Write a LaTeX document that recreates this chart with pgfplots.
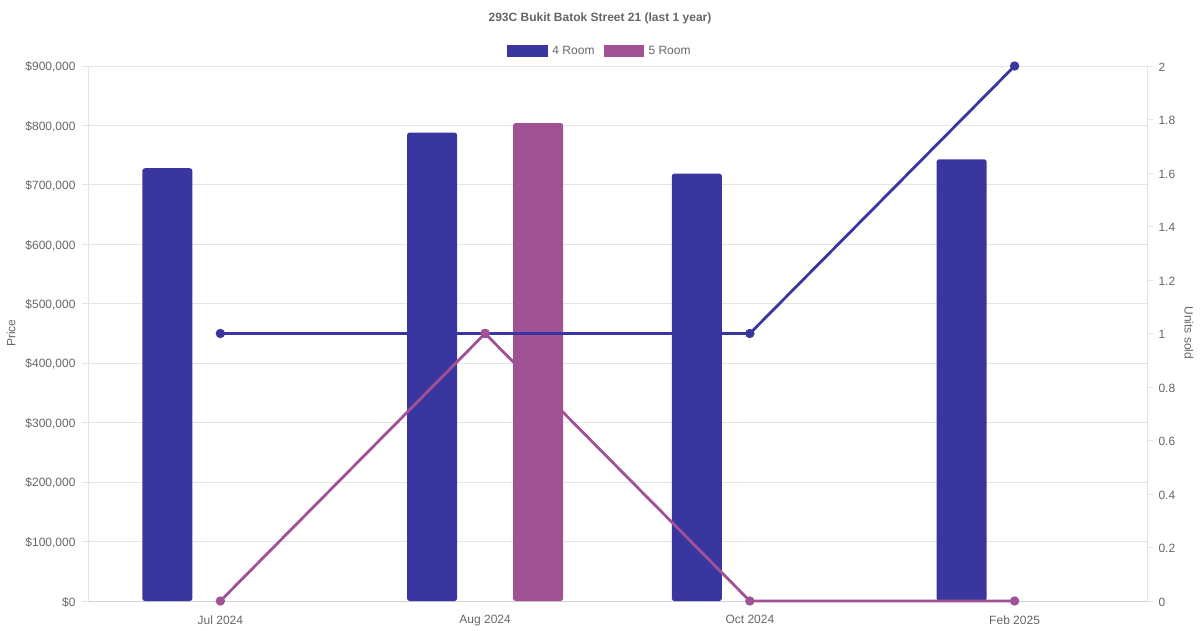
\documentclass[border=0pt]{standalone}
\usepackage{pgfplots}
\pgfplotsset{compat=1.18}
\usepackage{fontspec}
\setmainfont{Liberation Sans}
\definecolor{cA}{RGB}{58,54,160}
\definecolor{cB}{RGB}{160,82,148}
\definecolor{txt}{RGB}{102,102,102}
\definecolor{grd}{RGB}{228,228,228}
\definecolor{axl}{RGB}{210,210,210}
\begin{document}
\begin{tikzpicture}[font=\fontsize{12}{14}\selectfont]
\useasboundingbox (0,0) rectangle (1200pt,630pt);
\begin{axis}[
  at={(88pt,29pt)}, anchor=south west,
  scale only axis, width=1059pt, height=535pt,
  xmin=-0.5, xmax=3.5, ymin=0, ymax=900000,
  xtick={0,1,2,3},
  xticklabels={Jul 2024,Aug 2024,Oct 2024,Feb 2025},
  xtick style={draw=none},
  ytick={0,100000,...,900000},
  yticklabels={\$0,{\$100,000},{\$200,000},{\$300,000},{\$400,000},{\$500,000},{\$600,000},{\$700,000},{\$800,000},{\$900,000}},
  axis y line*=left, axis x line*=bottom,
  y axis line style={draw=grd},
  x axis line style={draw=axl},
  ymajorgrids, grid style={draw=grd, line width=0.8pt},
  tick align=outside, major tick length=6pt,
  ytick style={draw=grd, line width=0.8pt},
  ticklabel style={text=txt},
  yticklabel style={xshift=-3pt, yshift=-1pt},
  xticklabel style={yshift=-5pt},
  scaled y ticks=false,
  legend style={at={(0.4835,1.028)}, anchor=center, draw=none, fill=none,
    legend columns=2, text=txt,
    /tikz/every even column/.append style={column sep=7pt}},
  legend cell align=left,
  clip=false,
]
\addplot[ybar, bar width=50pt, bar shift=-53pt, fill=cA, draw=none, rounded corners=2.5pt,
  legend image code/.code={\fill[cA, sharp corners] (0pt,-6pt) rectangle (40pt,6pt); \path (43pt,0pt);}]
  coordinates {(0,728000) (1,788000) (2,719000) (3,743000)};
\addlegendentry{4 Room}
\addplot[ybar, bar width=50pt, bar shift=53pt, fill=cB, draw=none, rounded corners=2.5pt,
  legend image code/.code={\fill[cB, sharp corners] (0pt,-6pt) rectangle (40pt,6pt); \path (43pt,0pt);}]
  coordinates {(1,804000)};
\addlegendentry{5 Room}
\end{axis}
\begin{axis}[
  at={(88pt,29pt)}, anchor=south west,
  scale only axis, width=1059pt, height=535pt,
  xmin=-0.5, xmax=3.5, ymin=0, ymax=2,
  axis x line=none,
  axis y line*=right,
  y axis line style={draw=grd},
  ytick={0,0.2,...,2.01},
  tick align=outside, major tick length=6pt,
  ytick style={draw=grd, line width=0.8pt},
  yticklabel style={text=txt, xshift=2pt, yshift=-1pt, /pgf/number format/assume math mode=true},
  clip=false,
]
\addplot[cA, line width=2.8pt, mark=*, mark size=3.2pt, mark options={solid, fill=cA, draw=none}]
  coordinates {(0,1) (1,1) (2,1) (3,2)};
\addplot[cB, line width=2.8pt, mark=*, mark size=3.2pt, mark options={solid, fill=cB, draw=none}]
  coordinates {(0,0) (1,1) (2,0) (3,0)};
\end{axis}
\node[text=txt, font=\fontsize{12}{14}\selectfont\bfseries] at (600pt,612pt) {293C Bukit Batok Street 21 (last 1 year)};
\node[text=txt, rotate=90] at (11pt,297pt) {Price};
\node[text=txt, rotate=-90] at (1189pt,297pt) {Units sold};
\end{tikzpicture}
\end{document}
